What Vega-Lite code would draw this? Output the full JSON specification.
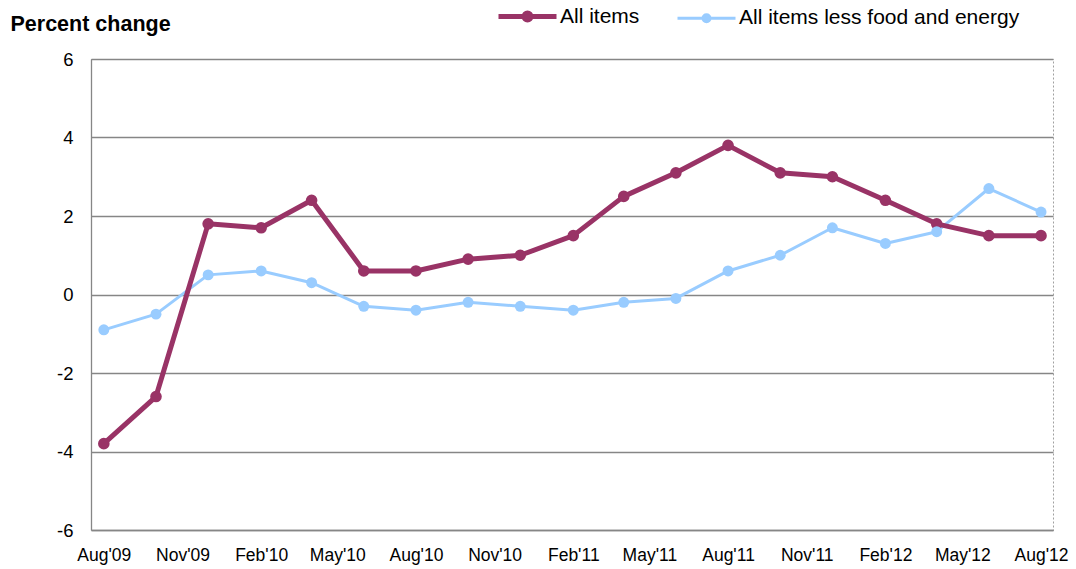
{
  "$schema": "https://vega.github.io/schema/vega-lite/v6.json",
  "autosize": "none",
  "width": 962,
  "height": 471,
  "padding": {"left": 91, "top": 59, "right": 23, "bottom": 39},
  "background": "white",
  "config": {
    "font": "Liberation Sans",
    "view": {"stroke": "#a0a0a0", "strokeDash": [2, 2], "strokeWidth": 1}
  },
  "data": {
    "values": [
      {"date": "2009-08-01", "series": "All items", "value": -3.8},
      {"date": "2009-10-01", "series": "All items", "value": -2.6},
      {"date": "2009-12-01", "series": "All items", "value": 1.8},
      {"date": "2010-02-01", "series": "All items", "value": 1.7},
      {"date": "2010-04-01", "series": "All items", "value": 2.4},
      {"date": "2010-06-01", "series": "All items", "value": 0.6},
      {"date": "2010-08-01", "series": "All items", "value": 0.6},
      {"date": "2010-10-01", "series": "All items", "value": 0.9},
      {"date": "2010-12-01", "series": "All items", "value": 1.0},
      {"date": "2011-02-01", "series": "All items", "value": 1.5},
      {"date": "2011-04-01", "series": "All items", "value": 2.5},
      {"date": "2011-06-01", "series": "All items", "value": 3.1},
      {"date": "2011-08-01", "series": "All items", "value": 3.8},
      {"date": "2011-10-01", "series": "All items", "value": 3.1},
      {"date": "2011-12-01", "series": "All items", "value": 3.0},
      {"date": "2012-02-01", "series": "All items", "value": 2.4},
      {"date": "2012-04-01", "series": "All items", "value": 1.8},
      {"date": "2012-06-01", "series": "All items", "value": 1.5},
      {"date": "2012-08-01", "series": "All items", "value": 1.5},
      {"date": "2009-08-01", "series": "All items less food and energy", "value": -0.9},
      {"date": "2009-10-01", "series": "All items less food and energy", "value": -0.5},
      {"date": "2009-12-01", "series": "All items less food and energy", "value": 0.5},
      {"date": "2010-02-01", "series": "All items less food and energy", "value": 0.6},
      {"date": "2010-04-01", "series": "All items less food and energy", "value": 0.3},
      {"date": "2010-06-01", "series": "All items less food and energy", "value": -0.3},
      {"date": "2010-08-01", "series": "All items less food and energy", "value": -0.4},
      {"date": "2010-10-01", "series": "All items less food and energy", "value": -0.2},
      {"date": "2010-12-01", "series": "All items less food and energy", "value": -0.3},
      {"date": "2011-02-01", "series": "All items less food and energy", "value": -0.4},
      {"date": "2011-04-01", "series": "All items less food and energy", "value": -0.2},
      {"date": "2011-06-01", "series": "All items less food and energy", "value": -0.1},
      {"date": "2011-08-01", "series": "All items less food and energy", "value": 0.6},
      {"date": "2011-10-01", "series": "All items less food and energy", "value": 1.0},
      {"date": "2011-12-01", "series": "All items less food and energy", "value": 1.7},
      {"date": "2012-02-01", "series": "All items less food and energy", "value": 1.3},
      {"date": "2012-04-01", "series": "All items less food and energy", "value": 1.6},
      {"date": "2012-06-01", "series": "All items less food and energy", "value": 2.7},
      {"date": "2012-08-01", "series": "All items less food and energy", "value": 2.1}
    ]
  },
  "encoding": {
    "x": {
      "field": "date",
      "type": "temporal",
      "scale": {
        "type": "utc",
        "domain": [
          {"year": 2009, "month": 7, "date": 17, "utc": true},
          {"year": 2012, "month": 8, "date": 15, "utc": true}
        ]
      },
      "axis": {
        "title": null,
        "format": "%b'%y",
        "values": [
          {"year": 2009, "month": 8, "date": 1, "utc": true},
          {"year": 2009, "month": 11, "date": 1, "utc": true},
          {"year": 2010, "month": 2, "date": 1, "utc": true},
          {"year": 2010, "month": 5, "date": 1, "utc": true},
          {"year": 2010, "month": 8, "date": 1, "utc": true},
          {"year": 2010, "month": 11, "date": 1, "utc": true},
          {"year": 2011, "month": 2, "date": 1, "utc": true},
          {"year": 2011, "month": 5, "date": 1, "utc": true},
          {"year": 2011, "month": 8, "date": 1, "utc": true},
          {"year": 2011, "month": 11, "date": 1, "utc": true},
          {"year": 2012, "month": 2, "date": 1, "utc": true},
          {"year": 2012, "month": 5, "date": 1, "utc": true},
          {"year": 2012, "month": 8, "date": 1, "utc": true}
        ],
        "grid": false,
        "ticks": false,
        "domain": true,
        "domainColor": "#868686",
        "domainWidth": 1.3,
        "labelFontSize": 17.5,
        "labelColor": "#000000",
        "labelPadding": 16,
        "labelBaseline": "top",
        "labelOverlap": false,
        "labelFlush": false
      }
    },
    "y": {
      "field": "value",
      "type": "quantitative",
      "scale": {"domain": [-6, 6], "nice": false, "zero": false},
      "axis": {
        "title": "Percent change",
        "titleAngle": 0,
        "titleX": -81,
        "titleY": -29,
        "titleAlign": "left",
        "titleBaseline": "alphabetic",
        "titleFontSize": 21.5,
        "titleFontWeight": "bold",
        "titleColor": "#000000",
        "values": [-6, -4, -2, 0, 2, 4, 6],
        "labelExpr": "'' + datum.value",
        "grid": true,
        "gridColor": "#868686",
        "gridWidth": 1.3,
        "ticks": false,
        "domain": true,
        "domainColor": "#868686",
        "domainWidth": 1.3,
        "labelFontSize": 18.5,
        "labelColor": "#000000",
        "labelPadding": 18
      }
    },
    "color": {
      "field": "series",
      "type": "nominal",
      "scale": {
        "domain": ["All items", "All items less food and energy"],
        "range": ["#993366", "#99CCFF"]
      },
      "legend": {
        "title": null,
        "orient": "none",
        "direction": "horizontal",
        "legendX": 407,
        "legendY": -53,
        "padding": 0,
        "symbolType": "M-1,0H1M-0.12,0A0.12,0.12 0 1,0 0.12,0A0.12,0.12 0 1,0 -0.12,0Z",
        "symbolSize": 3364,
        "symbolStrokeWidth": 0,
        "symbolOffset": 19,
        "labelOffset": 22,
        "columnPadding": 31,
        "labelFontSize": 21,
        "labelColor": "#000000",
        "labelLimit": 400,
        "encode": {
          "symbols": {
            "update": {
              "fill": {"signal": "scale('color', datum.value)"},
              "stroke": {"signal": "scale('color', datum.value)"},
              "strokeWidth": {"signal": "datum.value === 'All items' ? 5 : 3"},
              "opacity": {"value": 1}
            }
          }
        }
      }
    }
  },
  "layer": [
    {
      "transform": [{"filter": "datum.series === 'All items less food and energy'"}],
      "mark": {"type": "line", "strokeWidth": 3, "strokeJoin": "round", "strokeCap": "round"}
    },
    {
      "transform": [{"filter": "datum.series === 'All items'"}],
      "mark": {"type": "line", "strokeWidth": 5, "strokeJoin": "round", "strokeCap": "round"}
    },
    {
      "transform": [{"filter": "datum.series === 'All items'"}],
      "mark": {"type": "point", "shape": "circle", "filled": true, "opacity": 1, "size": 135}
    },
    {
      "transform": [{"filter": "datum.series === 'All items less food and energy'"}],
      "mark": {"type": "point", "shape": "circle", "filled": true, "opacity": 1, "size": 120}
    }
  ]
}
